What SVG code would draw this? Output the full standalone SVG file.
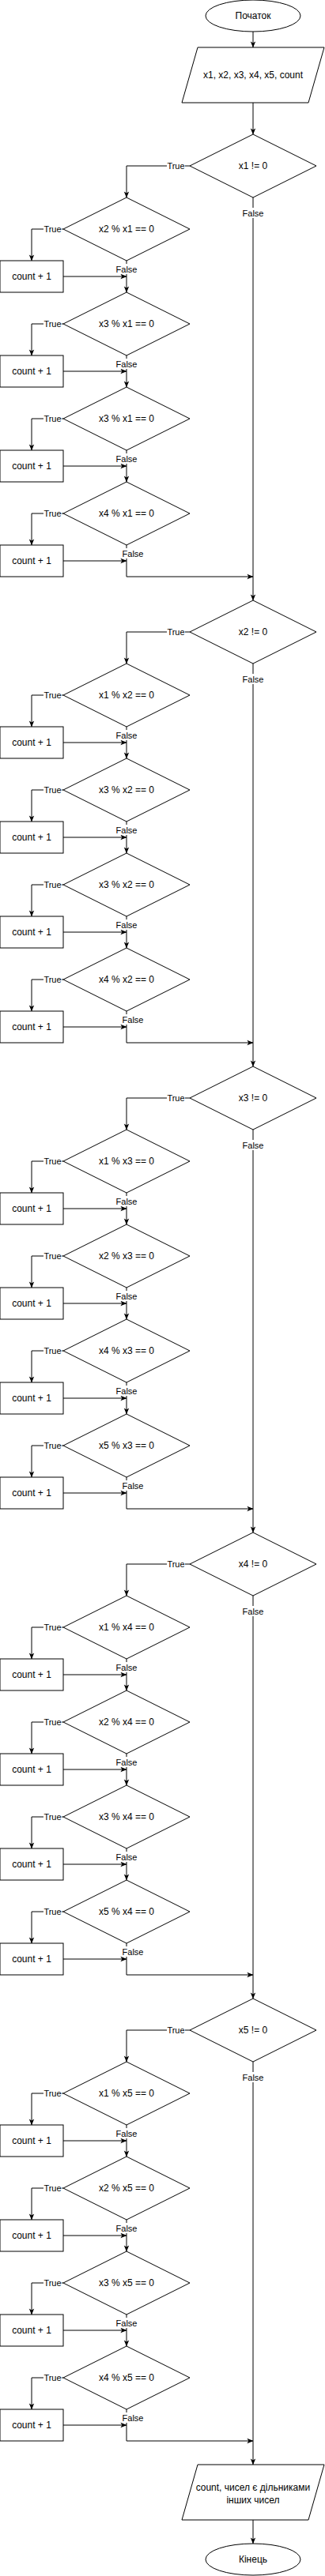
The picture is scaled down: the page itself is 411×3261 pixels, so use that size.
<svg xmlns="http://www.w3.org/2000/svg" xmlns:xlink="http://www.w3.org/1999/xlink" width="411" height="3261" viewBox="0 0 411 3261">
<style>
.shape{fill:#fff;stroke:#000;stroke-width:1}
.edge{fill:none;stroke:#000;stroke-width:1;marker-end:url(#arrow)}
.t{font-family:"Liberation Sans",Arial,Helvetica,sans-serif;font-size:12px;text-anchor:middle;fill:#000}
.l{font-family:"Liberation Sans",Arial,Helvetica,sans-serif;font-size:11px;text-anchor:middle;fill:#000}
.bg{fill:#fff}
</style>
<defs>
<marker id="arrow" viewBox="0 0 10 10" refX="9.5" refY="5" markerWidth="8" markerHeight="8" markerUnits="userSpaceOnUse" orient="auto"><path d="M0,1 L10,5 L0,9 L2.5,5 Z" fill="#000"/></marker>
<polygon id="dia" points="0,-40 80,0 0,40 -80,0"/>
<rect id="box" width="80" height="40"/>
</defs>
<rect width="411" height="3261" fill="#fff"/>
<g id="connectors">
<path class="edge" d="M320,40 V60"/>
<path class="edge" d="M320,130 V170"/>
<path class="edge" d="M320,3190 V3220"/>
<!-- group 1 -->
<path class="edge" d="M240,210 H160 V250"/>
<path class="edge" d="M80,290 H40 V330"/><path class="edge" d="M80,350 H160"/><path class="edge" d="M160,330 V370"/>
<path class="edge" d="M80,410 H40 V450"/><path class="edge" d="M80,470 H160"/><path class="edge" d="M160,450 V490"/>
<path class="edge" d="M80,530 H40 V570"/><path class="edge" d="M80,590 H160"/><path class="edge" d="M160,570 V610"/>
<path class="edge" d="M80,650 H40 V690"/><path class="edge" d="M80,710 H160"/><path class="edge" d="M160,690 V730 H320"/>
<path class="edge" d="M320,250 V760"/>
<!-- group 2 -->
<path class="edge" d="M240,800 H160 V840"/>
<path class="edge" d="M80,880 H40 V920"/><path class="edge" d="M80,940 H160"/><path class="edge" d="M160,920 V960"/>
<path class="edge" d="M80,1000 H40 V1040"/><path class="edge" d="M80,1060 H160"/><path class="edge" d="M160,1040 V1080"/>
<path class="edge" d="M80,1120 H40 V1160"/><path class="edge" d="M80,1180 H160"/><path class="edge" d="M160,1160 V1200"/>
<path class="edge" d="M80,1240 H40 V1280"/><path class="edge" d="M80,1300 H160"/><path class="edge" d="M160,1280 V1320 H320"/>
<path class="edge" d="M320,840 V1350"/>
<!-- group 3 -->
<path class="edge" d="M240,1390 H160 V1430"/>
<path class="edge" d="M80,1470 H40 V1510"/><path class="edge" d="M80,1530 H160"/><path class="edge" d="M160,1510 V1550"/>
<path class="edge" d="M80,1590 H40 V1630"/><path class="edge" d="M80,1650 H160"/><path class="edge" d="M160,1630 V1670"/>
<path class="edge" d="M80,1710 H40 V1750"/><path class="edge" d="M80,1770 H160"/><path class="edge" d="M160,1750 V1790"/>
<path class="edge" d="M80,1830 H40 V1870"/><path class="edge" d="M80,1890 H160"/><path class="edge" d="M160,1870 V1910 H320"/>
<path class="edge" d="M320,1430 V1940"/>
<!-- group 4 -->
<path class="edge" d="M240,1980 H160 V2020"/>
<path class="edge" d="M80,2060 H40 V2100"/><path class="edge" d="M80,2120 H160"/><path class="edge" d="M160,2100 V2140"/>
<path class="edge" d="M80,2180 H40 V2220"/><path class="edge" d="M80,2240 H160"/><path class="edge" d="M160,2220 V2260"/>
<path class="edge" d="M80,2300 H40 V2340"/><path class="edge" d="M80,2360 H160"/><path class="edge" d="M160,2340 V2380"/>
<path class="edge" d="M80,2420 H40 V2460"/><path class="edge" d="M80,2480 H160"/><path class="edge" d="M160,2460 V2500 H320"/>
<path class="edge" d="M320,2020 V2530"/>
<!-- group 5 -->
<path class="edge" d="M240,2570 H160 V2610"/>
<path class="edge" d="M80,2650 H40 V2690"/><path class="edge" d="M80,2710 H160"/><path class="edge" d="M160,2690 V2730"/>
<path class="edge" d="M80,2770 H40 V2810"/><path class="edge" d="M80,2830 H160"/><path class="edge" d="M160,2810 V2850"/>
<path class="edge" d="M80,2890 H40 V2930"/><path class="edge" d="M80,2950 H160"/><path class="edge" d="M160,2930 V2970"/>
<path class="edge" d="M80,3010 H40 V3050"/><path class="edge" d="M80,3070 H160"/><path class="edge" d="M160,3050 V3090 H320"/>
<path class="edge" d="M320,2610 V3120"/>
<!-- labels -->
<g id="labels">
<rect class="bg" x="211" y="203" width="23" height="13"/><text class="l" x="222.5" y="214">True</text>
<rect class="bg" x="306.5" y="263" width="27" height="13"/><text class="l" x="320" y="274">False</text>
<rect class="bg" x="55" y="283" width="23" height="13"/><text class="l" x="66.5" y="294">True</text>
<rect class="bg" x="55" y="403" width="23" height="13"/><text class="l" x="66.5" y="414">True</text>
<rect class="bg" x="55" y="523" width="23" height="13"/><text class="l" x="66.5" y="534">True</text>
<rect class="bg" x="55" y="643" width="23" height="13"/><text class="l" x="66.5" y="654">True</text>
<rect class="bg" x="146.5" y="334" width="27" height="13"/><text class="l" x="160" y="345">False</text>
<rect class="bg" x="146.5" y="454" width="27" height="13"/><text class="l" x="160" y="465">False</text>
<rect class="bg" x="146.5" y="574" width="27" height="13"/><text class="l" x="160" y="585">False</text>
<rect class="bg" x="154.5" y="694" width="27" height="13"/><text class="l" x="168" y="705">False</text>

<rect class="bg" x="211" y="793" width="23" height="13"/><text class="l" x="222.5" y="804">True</text>
<rect class="bg" x="306.5" y="853" width="27" height="13"/><text class="l" x="320" y="864">False</text>
<rect class="bg" x="55" y="873" width="23" height="13"/><text class="l" x="66.5" y="884">True</text>
<rect class="bg" x="55" y="993" width="23" height="13"/><text class="l" x="66.5" y="1004">True</text>
<rect class="bg" x="55" y="1113" width="23" height="13"/><text class="l" x="66.5" y="1124">True</text>
<rect class="bg" x="55" y="1233" width="23" height="13"/><text class="l" x="66.5" y="1244">True</text>
<rect class="bg" x="146.5" y="924" width="27" height="13"/><text class="l" x="160" y="935">False</text>
<rect class="bg" x="146.5" y="1044" width="27" height="13"/><text class="l" x="160" y="1055">False</text>
<rect class="bg" x="146.5" y="1164" width="27" height="13"/><text class="l" x="160" y="1175">False</text>
<rect class="bg" x="154.5" y="1284" width="27" height="13"/><text class="l" x="168" y="1295">False</text>

<rect class="bg" x="211" y="1383" width="23" height="13"/><text class="l" x="222.5" y="1394">True</text>
<rect class="bg" x="306.5" y="1443" width="27" height="13"/><text class="l" x="320" y="1454">False</text>
<rect class="bg" x="55" y="1463" width="23" height="13"/><text class="l" x="66.5" y="1474">True</text>
<rect class="bg" x="55" y="1583" width="23" height="13"/><text class="l" x="66.5" y="1594">True</text>
<rect class="bg" x="55" y="1703" width="23" height="13"/><text class="l" x="66.5" y="1714">True</text>
<rect class="bg" x="55" y="1823" width="23" height="13"/><text class="l" x="66.5" y="1834">True</text>
<rect class="bg" x="146.5" y="1514" width="27" height="13"/><text class="l" x="160" y="1525">False</text>
<rect class="bg" x="146.5" y="1634" width="27" height="13"/><text class="l" x="160" y="1645">False</text>
<rect class="bg" x="146.5" y="1754" width="27" height="13"/><text class="l" x="160" y="1765">False</text>
<rect class="bg" x="154.5" y="1874" width="27" height="13"/><text class="l" x="168" y="1885">False</text>

<rect class="bg" x="211" y="1973" width="23" height="13"/><text class="l" x="222.5" y="1984">True</text>
<rect class="bg" x="306.5" y="2033" width="27" height="13"/><text class="l" x="320" y="2044">False</text>
<rect class="bg" x="55" y="2053" width="23" height="13"/><text class="l" x="66.5" y="2064">True</text>
<rect class="bg" x="55" y="2173" width="23" height="13"/><text class="l" x="66.5" y="2184">True</text>
<rect class="bg" x="55" y="2293" width="23" height="13"/><text class="l" x="66.5" y="2304">True</text>
<rect class="bg" x="55" y="2413" width="23" height="13"/><text class="l" x="66.5" y="2424">True</text>
<rect class="bg" x="146.5" y="2104" width="27" height="13"/><text class="l" x="160" y="2115">False</text>
<rect class="bg" x="146.5" y="2224" width="27" height="13"/><text class="l" x="160" y="2235">False</text>
<rect class="bg" x="146.5" y="2344" width="27" height="13"/><text class="l" x="160" y="2355">False</text>
<rect class="bg" x="154.5" y="2464" width="27" height="13"/><text class="l" x="168" y="2475">False</text>

<rect class="bg" x="211" y="2563" width="23" height="13"/><text class="l" x="222.5" y="2574">True</text>
<rect class="bg" x="306.5" y="2623" width="27" height="13"/><text class="l" x="320" y="2634">False</text>
<rect class="bg" x="55" y="2643" width="23" height="13"/><text class="l" x="66.5" y="2654">True</text>
<rect class="bg" x="55" y="2763" width="23" height="13"/><text class="l" x="66.5" y="2774">True</text>
<rect class="bg" x="55" y="2883" width="23" height="13"/><text class="l" x="66.5" y="2894">True</text>
<rect class="bg" x="55" y="3003" width="23" height="13"/><text class="l" x="66.5" y="3014">True</text>
<rect class="bg" x="146.5" y="2694" width="27" height="13"/><text class="l" x="160" y="2705">False</text>
<rect class="bg" x="146.5" y="2814" width="27" height="13"/><text class="l" x="160" y="2825">False</text>
<rect class="bg" x="146.5" y="2934" width="27" height="13"/><text class="l" x="160" y="2945">False</text>
<rect class="bg" x="154.5" y="3054" width="27" height="13"/><text class="l" x="168" y="3065">False</text>
</g>
</g>
<g id="nodes">
<g id="start"><ellipse class="shape" cx="320" cy="20" rx="60" ry="20"/><text class="t" x="320" y="24">Початок</text></g>
<g id="input"><polygon class="shape" points="250,60 410,60 390,130 230,130"/><text class="t" x="320" y="99">x1, x2, x3, x4, x5, count</text></g>

<g id="c1"><use href="#dia" class="shape" x="320" y="210"/><text class="t" x="320" y="214">x1 != 0</text></g>
<g id="c1a"><use href="#dia" class="shape" x="160" y="290"/><text class="t" x="160" y="294">x2 % x1 == 0</text></g>
<g id="r1a"><use href="#box" class="shape" x="0" y="330"/><text class="t" x="40" y="354">count + 1</text></g>
<g id="c1b"><use href="#dia" class="shape" x="160" y="410"/><text class="t" x="160" y="414">x3 % x1 == 0</text></g>
<g id="r1b"><use href="#box" class="shape" x="0" y="450"/><text class="t" x="40" y="474">count + 1</text></g>
<g id="c1c"><use href="#dia" class="shape" x="160" y="530"/><text class="t" x="160" y="534">x3 % x1 == 0</text></g>
<g id="r1c"><use href="#box" class="shape" x="0" y="570"/><text class="t" x="40" y="594">count + 1</text></g>
<g id="c1d"><use href="#dia" class="shape" x="160" y="650"/><text class="t" x="160" y="654">x4 % x1 == 0</text></g>
<g id="r1d"><use href="#box" class="shape" x="0" y="690"/><text class="t" x="40" y="714">count + 1</text></g>

<g id="c2"><use href="#dia" class="shape" x="320" y="800"/><text class="t" x="320" y="804">x2 != 0</text></g>
<g id="c2a"><use href="#dia" class="shape" x="160" y="880"/><text class="t" x="160" y="884">x1 % x2 == 0</text></g>
<g id="r2a"><use href="#box" class="shape" x="0" y="920"/><text class="t" x="40" y="944">count + 1</text></g>
<g id="c2b"><use href="#dia" class="shape" x="160" y="1000"/><text class="t" x="160" y="1004">x3 % x2 == 0</text></g>
<g id="r2b"><use href="#box" class="shape" x="0" y="1040"/><text class="t" x="40" y="1064">count + 1</text></g>
<g id="c2c"><use href="#dia" class="shape" x="160" y="1120"/><text class="t" x="160" y="1124">x3 % x2 == 0</text></g>
<g id="r2c"><use href="#box" class="shape" x="0" y="1160"/><text class="t" x="40" y="1184">count + 1</text></g>
<g id="c2d"><use href="#dia" class="shape" x="160" y="1240"/><text class="t" x="160" y="1244">x4 % x2 == 0</text></g>
<g id="r2d"><use href="#box" class="shape" x="0" y="1280"/><text class="t" x="40" y="1304">count + 1</text></g>

<g id="c3"><use href="#dia" class="shape" x="320" y="1390"/><text class="t" x="320" y="1394">x3 != 0</text></g>
<g id="c3a"><use href="#dia" class="shape" x="160" y="1470"/><text class="t" x="160" y="1474">x1 % x3 == 0</text></g>
<g id="r3a"><use href="#box" class="shape" x="0" y="1510"/><text class="t" x="40" y="1534">count + 1</text></g>
<g id="c3b"><use href="#dia" class="shape" x="160" y="1590"/><text class="t" x="160" y="1594">x2 % x3 == 0</text></g>
<g id="r3b"><use href="#box" class="shape" x="0" y="1630"/><text class="t" x="40" y="1654">count + 1</text></g>
<g id="c3c"><use href="#dia" class="shape" x="160" y="1710"/><text class="t" x="160" y="1714">x4 % x3 == 0</text></g>
<g id="r3c"><use href="#box" class="shape" x="0" y="1750"/><text class="t" x="40" y="1774">count + 1</text></g>
<g id="c3d"><use href="#dia" class="shape" x="160" y="1830"/><text class="t" x="160" y="1834">x5 % x3 == 0</text></g>
<g id="r3d"><use href="#box" class="shape" x="0" y="1870"/><text class="t" x="40" y="1894">count + 1</text></g>

<g id="c4"><use href="#dia" class="shape" x="320" y="1980"/><text class="t" x="320" y="1984">x4 != 0</text></g>
<g id="c4a"><use href="#dia" class="shape" x="160" y="2060"/><text class="t" x="160" y="2064">x1 % x4 == 0</text></g>
<g id="r4a"><use href="#box" class="shape" x="0" y="2100"/><text class="t" x="40" y="2124">count + 1</text></g>
<g id="c4b"><use href="#dia" class="shape" x="160" y="2180"/><text class="t" x="160" y="2184">x2 % x4 == 0</text></g>
<g id="r4b"><use href="#box" class="shape" x="0" y="2220"/><text class="t" x="40" y="2244">count + 1</text></g>
<g id="c4c"><use href="#dia" class="shape" x="160" y="2300"/><text class="t" x="160" y="2304">x3 % x4 == 0</text></g>
<g id="r4c"><use href="#box" class="shape" x="0" y="2340"/><text class="t" x="40" y="2364">count + 1</text></g>
<g id="c4d"><use href="#dia" class="shape" x="160" y="2420"/><text class="t" x="160" y="2424">x5 % x4 == 0</text></g>
<g id="r4d"><use href="#box" class="shape" x="0" y="2460"/><text class="t" x="40" y="2484">count + 1</text></g>

<g id="c5"><use href="#dia" class="shape" x="320" y="2570"/><text class="t" x="320" y="2574">x5 != 0</text></g>
<g id="c5a"><use href="#dia" class="shape" x="160" y="2650"/><text class="t" x="160" y="2654">x1 % x5 == 0</text></g>
<g id="r5a"><use href="#box" class="shape" x="0" y="2690"/><text class="t" x="40" y="2714">count + 1</text></g>
<g id="c5b"><use href="#dia" class="shape" x="160" y="2770"/><text class="t" x="160" y="2774">x2 % x5 == 0</text></g>
<g id="r5b"><use href="#box" class="shape" x="0" y="2810"/><text class="t" x="40" y="2834">count + 1</text></g>
<g id="c5c"><use href="#dia" class="shape" x="160" y="2890"/><text class="t" x="160" y="2894">x3 % x5 == 0</text></g>
<g id="r5c"><use href="#box" class="shape" x="0" y="2930"/><text class="t" x="40" y="2954">count + 1</text></g>
<g id="c5d"><use href="#dia" class="shape" x="160" y="3010"/><text class="t" x="160" y="3014">x4 % x5 == 0</text></g>
<g id="r5d"><use href="#box" class="shape" x="0" y="3050"/><text class="t" x="40" y="3074">count + 1</text></g>

<g id="output"><polygon class="shape" points="250,3120 410,3120 390,3190 230,3190"/><text class="t" x="320" y="3153">count, чисел є дільниками</text><text class="t" x="320" y="3169">інших чисел</text></g>
<g id="end"><ellipse class="shape" cx="320" cy="3240" rx="60" ry="20"/><text class="t" x="320" y="3244">Кінець</text></g>
</g>
</svg>
